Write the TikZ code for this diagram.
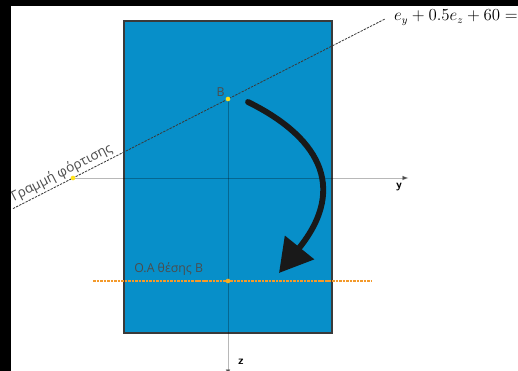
\documentclass[tikz,border=0pt]{standalone}
\usepackage{fontspec}
\usetikzlibrary{arrows.meta,positioning}
\newfontfamily\grfont{Open Sans}
\definecolor{secblue}{HTML}{078FC9}
\definecolor{edgegray}{HTML}{3A3A3A}
\definecolor{naorange}{HTML}{F39A2C}
\definecolor{ptyellow}{HTML}{FFE21A}

\begin{document}
\begin{tikzpicture}[x=0.03cm,y=-0.03cm,>=Latex,
  pt/.style={circle,fill=ptyellow,inner sep=0pt,minimum size=4pt},
  lbl/.style={font=\grfont\fontsize{10.5}{12}\selectfont,text=black!70,inner sep=1pt},
  axlbl/.style={font=\sffamily\bfseries,inner sep=0pt},
  axis/.style={black,draw opacity=.28,line width=.6pt}]
\useasboundingbox (0,0) rectangle (518,371);
\fill[white] (0,0) rectangle (518,371);
\fill[black] (0,0) rectangle (518,6);\fill[black] (0,0) rectangle (11,371);
\draw[edgegray,line width=1.1pt,fill=secblue] (124,21) rectangle (332,333);
\coordinate (A) at (73,178);\coordinate (B) at (228,99);\coordinate (O) at (228,281);
\coordinate (yend) at (409,178);\coordinate (zend) at (228,376);
\coordinate (Lstart) at (13,208.6);\coordinate (Lend) at (385,19);
\coordinate (oaL) at (93,281);\coordinate (oaR) at (371,281);
\coordinate (rotS) at (248,102);\coordinate (rotE) at (279,273);
% axes
\draw[axis,-{Latex[black!70]}] (A) -- (yend);
\draw[axis,-{Latex[black!70]}] (B) -- (zend);
\node[axlbl] (ylbl) at (399,187) {y};
\node[axlbl] (zlbl) at (241,362) {z};
% loading line and neutral axis
\draw[edgegray,line width=.7pt,dash pattern=on 2pt off 1pt] (Lstart) -- (Lend);
\draw[naorange,line width=1.2pt,dash pattern=on 2.2pt off .8pt] (oaL) -- (oaR);
\draw[black!90,line width=5pt,line cap=round,-{Triangle[length=28pt,width=31pt]}] (rotS) .. controls (315,135) and (350,185) .. (rotE);
\node[pt] (Apt) at (A) {};\node[pt] (Bpt) at (B) {};\node[pt,fill=naorange!80!yellow] (Opt) at (O) {};
\node[lbl,anchor=south east] (Blbl) at (226,98) {B};
\node[lbl,anchor=base west] (oalbl) at (133,273) {Ο.Α θέσης Β};
\node[lbl,font=\grfont\fontsize{11.5}{13}\selectfont,rotate=27,anchor=south,inner sep=1.5pt] (loadlbl) at (66,181) {Γραμμή φόρτισης};
\node[anchor=base west,inner sep=0pt,font=\fontsize{13.5}{16}\selectfont] (eq) at (394,21) {$e_y+0.5e_z+60=0$};
\end{tikzpicture}
\end{document}
